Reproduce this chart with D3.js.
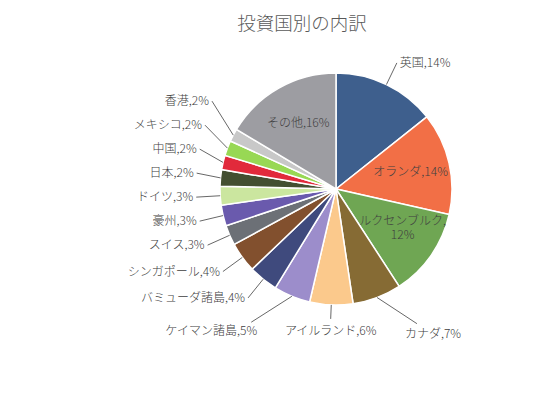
<!DOCTYPE html>
<html>
<head>
<meta charset="utf-8">
<script src="https://cdn.jsdelivr.net/npm/d3@7.9.0/dist/d3.min.js"></script>
<style>
  body { margin: 0; background: #fff; }
  text { font-family: "Noto Sans CJK JP", "Noto Sans", sans-serif; font-weight: 300; }
</style>
</head>
<body>
<svg id="chart" width="544" height="404"></svg>
<script>
// data (percent of total)
const countries = ['英国', 'オランダ', 'ルクセンブルク', 'カナダ', 'アイルランド', 'ケイマン諸島',
  'バミューダ諸島', 'シンガポール', 'スイス', '豪州', 'ドイツ', '日本', '中国', 'メキシコ', '香港', 'その他'];
const shares = [14.3, 14.2, 12.3, 6.8, 6.0, 5.1, 4.1, 4.2, 2.8, 2.9, 2.6, 2.3, 2.0, 2.1, 1.8, 16.4];
const sliceColors = ['#3e5f8d', '#f26f46', '#6fa653', '#866b34', '#fbc98c', '#9c8dcb',
  '#3f4a7d', '#82502e', '#6c7076', '#6a5aad', '#cbe69f', '#434f31', '#e12a3b', '#98d854', '#c8c8c8', '#9d9da2'];
const insideLabels = ['オランダ', 'ルクセンブルク', 'その他'];
const title = '投資国別の内訳';

const data = countries.map((name, i) => ({ name, value: shares[i], color: sliceColors[i] }));

const svg = d3.select('#chart');
const cx = 336, cy = 189, r = 116;
const fontSize = 12;

svg.append('text')
  .attr('x', 302).attr('y', 30)
  .attr('text-anchor', 'middle')
  .attr('font-size', 18.5)
  .attr('fill', '#595959')
  .text(title);

const pie = d3.pie().value(d => d.value).sort(null);
const arcs = pie(data);
const arcGen = d3.arc().innerRadius(0).outerRadius(r);
const labelArc = d3.arc().innerRadius(r * 0.66).outerRadius(r * 0.66);
const wrapArc = d3.arc().innerRadius(r * 0.7).outerRadius(r * 0.7);

const g = svg.append('g').attr('transform', `translate(${cx},${cy})`);

g.selectAll('path')
  .data(arcs)
  .join('path')
  .attr('d', arcGen)
  .attr('fill', d => d.data.color)
  .attr('stroke', '#fff')
  .attr('stroke-width', 1.5);

const labelText = d => `${d.data.name},${Math.round(d.data.value)}%`;

// inside labels (long names wrap onto two lines)
arcs.filter(d => insideLabels.includes(d.data.name)).forEach(d => {
  if (d.data.name.length > 5) {
    const [x, y] = wrapArc.centroid(d);
    const lines = [d.data.name + ',', Math.round(d.data.value) + '%'];
    lines.forEach((s, i) => {
      g.append('text')
        .attr('x', x).attr('y', y - 10 + i * 14)
        .attr('text-anchor', 'middle')
        .attr('font-size', fontSize)
        .attr('fill', '#404040')
        .text(s);
    });
  } else {
    const [x, y] = labelArc.centroid(d);
    g.append('text')
      .attr('x', x).attr('y', y)
      .attr('dy', '0.35em')
      .attr('text-anchor', 'middle')
      .attr('font-size', fontSize)
      .attr('fill', '#404040')
      .text(labelText(d));
  }
});

// outside labels with leader lines
const outside = arcs.filter(d => !insideLabels.includes(d.data.name)).map(d => {
  const a = (d.startAngle + d.endAngle) / 2;
  const off = Math.abs(a - Math.PI);
  const kind = off < 0.3 ? 'bottom' : off < 0.45 ? 'diag' : 'side';
  const R = kind === 'bottom' ? r + 14 : kind === 'diag' ? r + 28 : r + 24;
  const side = a > Math.PI ? -1 : 1;
  return {
    d, a, kind, side,
    sx: r * Math.sin(a), sy: -r * Math.cos(a),
    ex: R * Math.sin(a) + (kind === 'diag' ? side * 30 : 0), ey: -R * Math.cos(a)
  };
});

// spread left-side labels vertically from the one nearest 9 o'clock
const left = outside.filter(o => o.side < 0 && o.kind === 'side').sort((p, q) => p.ey - q.ey);
const gap = 24;
const pivot = d3.minIndex(left, o => Math.abs(o.a - 1.5 * Math.PI));
for (let i = pivot + 1; i < left.length; i++) left[i].ey = Math.max(left[i].ey, left[i - 1].ey + gap);
for (let i = pivot - 1; i >= 0; i--) left[i].ey = Math.min(left[i].ey, left[i + 1].ey - gap);

outside.forEach(o => {
  g.append('line')
    .attr('x1', o.sx).attr('y1', o.sy)
    .attr('x2', o.ex).attr('y2', o.ey)
    .attr('stroke', '#404040')
    .attr('stroke-width', 0.8);
  const t = g.append('text')
    .attr('font-size', fontSize)
    .attr('fill', '#404040')
    .text(labelText(o.d));
  if (o.kind === 'bottom') {
    t.attr('x', o.ex).attr('y', o.ey + 16).attr('text-anchor', 'middle');
  } else if (o.kind === 'diag') {
    if (o.side > 0) t.attr('x', o.ex - 12).attr('y', o.ey + 14).attr('text-anchor', 'start');
    else t.attr('x', o.ex + 6).attr('y', o.ey + 13).attr('text-anchor', 'end');
  } else if (o.side < 0) {
    t.attr('x', o.ex - 3).attr('y', o.ey).attr('dy', '0.35em').attr('text-anchor', 'end');
  } else {
    t.attr('x', o.ex + 3).attr('y', o.ey).attr('dy', '0.35em').attr('text-anchor', 'start');
  }
});
</script>
</body>
</html>
